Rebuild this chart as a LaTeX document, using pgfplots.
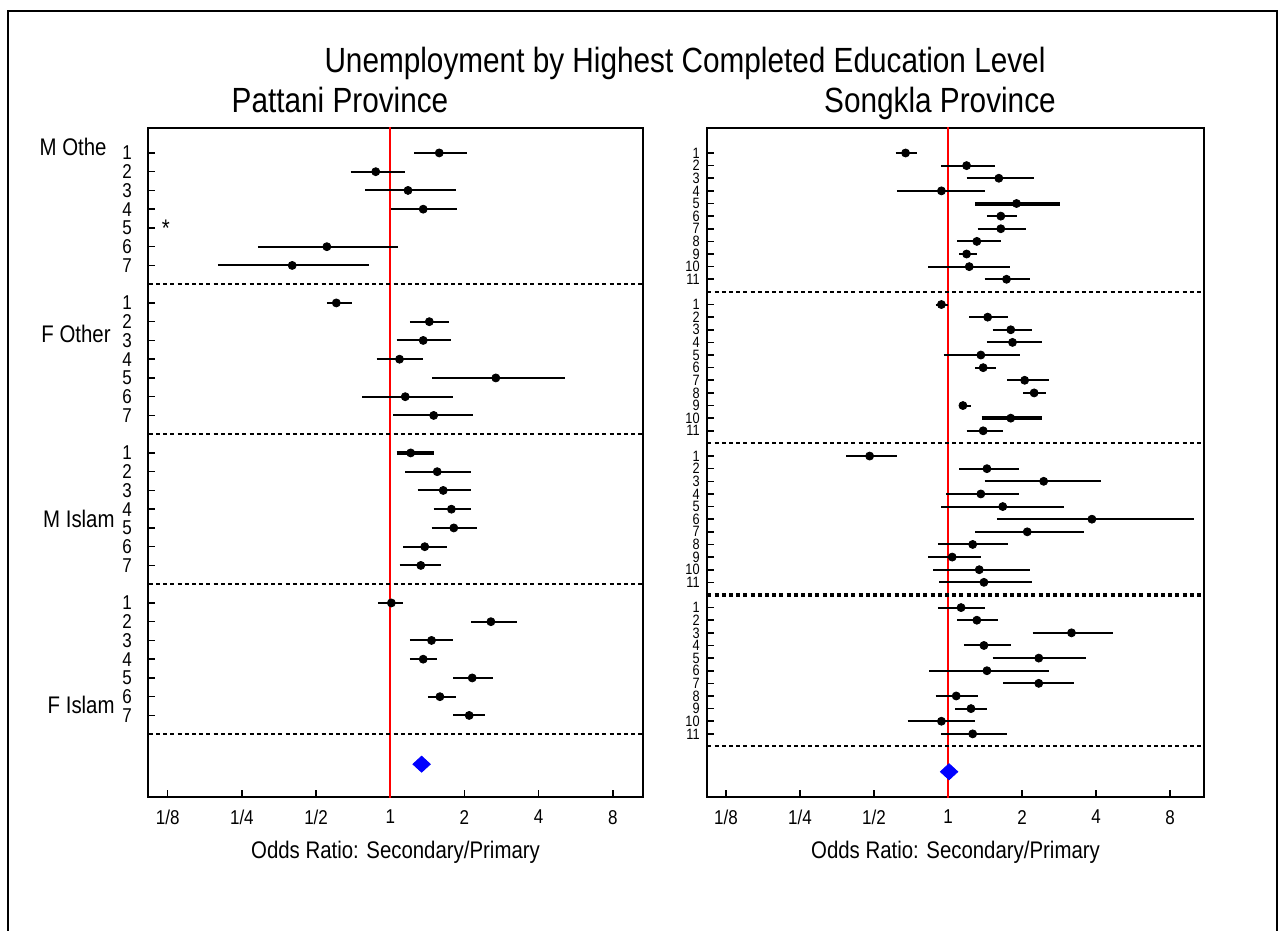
\documentclass[border=0pt]{standalone}
\usepackage{pgfplots}
\pgfplotsset{compat=1.18}
\usepackage{pgfplotstable}
\usepackage{fontspec}
\setmainfont{Liberation Sans}[FakeStretch=0.85]

% Odds ratios (or) with 95% limits (lo, hi); y is the row position
\pgfplotstableread{
y  or    lo    hi
1  1.58  1.25  2.05
2  0.873 0.69  1.15
3  1.18  0.79  1.84
4  1.36  1.01  1.86
6  0.553 0.29  1.07
7  0.40  0.20  0.82
9  0.604 0.553 0.70
10 1.44  1.20  1.73
11 1.36  1.06  1.76
12 1.09  0.88  1.36
13 2.68  1.48  5.10
14 1.15  0.77  1.80
15 1.50  1.03  2.17
18 1.55  1.15  2.13
19 1.64  1.29  2.13
20 1.77  1.50  2.13
21 1.81  1.47  2.25
22 1.38  1.13  1.70
23 1.33  1.09  1.61
25 1.01  0.89  1.13
26 2.56  2.13  3.26
27 1.47  1.20  1.80
28 1.36  1.20  1.55
29 2.15  1.80  2.60
30 1.59  1.42  1.84
31 2.09  1.80  2.42
}\pattani
\pgfplotstableread{
y  or    lo    hi
17 1.21  1.06  1.50
}\pattanibold

\pgfplotstableread{
y  or    lo    hi
1  0.672 0.612 0.75
2  1.19  0.94  1.55
3  1.61  1.19  2.24
4  0.94  0.62  1.41
6  1.64  1.44  1.90
7  1.64  1.32  2.08
8  1.31  1.09  1.64
9  1.19  1.11  1.31
10 1.22  0.83  1.79
11 1.73  1.41  2.16
13 0.94  0.89  1.00
14 1.45  1.22  1.76
15 1.80  1.52  2.19
16 1.83  1.44  2.42
17 1.36  0.96  1.97
18 1.39  1.29  1.57
19 2.05  1.74  2.57
20 2.24  2.02  2.51
21 1.15  1.11  1.24
23 1.39  1.19  1.67
25 0.48  0.385 0.62
26 1.44  1.11  1.94
27 2.45  1.41  4.21
28 1.36  0.98  1.94
29 1.67  0.94  2.97
30 3.85  1.58  9.97
31 2.10  1.29  3.56
32 1.26  0.91  1.76
33 1.04  0.83  1.36
34 1.34  0.87  2.16
35 1.40  0.92  2.19
37 1.13  0.91  1.41
38 1.31  1.09  1.60
39 3.18  2.21  4.71
40 1.40  1.16  1.80
41 2.34  1.52  3.64
42 1.44  0.84  2.57
43 2.34  1.68  3.25
44 1.08  0.89  1.33
45 1.24  1.07  1.44
46 0.94  0.685 1.29
47 1.26  0.94  1.73
}\songkla
\pgfplotstableread{
y  or    lo    hi
5  1.90  1.29  2.86
22 1.80  1.37  2.42
}\songklabold

% one horizontal segment from lo to hi for every row of a table
\newcommand\drawci[2]{%
  \pgfplotstablegetrowsof{#1}%
  \pgfmathtruncatemacro\cilast{\pgfplotsretval-1}%
  \pgfplotsforeachungrouped \cirow in {0,...,\cilast}{%
    \pgfplotstablegetelem{\cirow}{lo}\of{#1}\edef\cilo{\pgfplotsretval}%
    \pgfplotstablegetelem{\cirow}{hi}\of{#1}\edef\cihi{\pgfplotsretval}%
    \pgfplotstablegetelem{\cirow}{y}\of{#1}\edef\ciy{\pgfplotsretval}%
    \edef\cidraw{\noexpand\addplot[black, line width=#2, forget plot]
      coordinates {(\cilo,\ciy) (\cihi,\ciy)};}%
    \cidraw
  }%
}

\tikzset{
  sepline/.style={black, line width=1pt, dash pattern=on 2pt off 1.6pt},
  grouplabel/.style={anchor=mid east, inner sep=0pt, font=\fontsize{12}{12}\selectfont},
}

\begin{document}
\begin{tikzpicture}
\path[use as bounding box] (0,0) rectangle (640.5pt,465.5pt);
\draw[line width=0.8pt] (4pt,0) -- (4pt,460pt) -- (638.5pt,460pt) -- (638.5pt,0);

\node[anchor=base, font=\fontsize{17.5}{17.5}\selectfont] at (342.5pt,429pt)
  {Unemployment by Highest Completed Education Level};
\node[anchor=base, font=\fontsize{17.5}{17.5}\selectfont] at (170pt,409pt) {Pattani Province};
\node[anchor=base, font=\fontsize{17.5}{17.5}\selectfont] at (470pt,409pt) {Songkla Province};

% Pattani
\begin{axis}[
  scale only axis,
  xmode=log,
  y dir=reverse,
  at={(74pt,67pt)}, anchor=south west,
  width=247.5pt, height=334.5pt,
  xmin=0.104, xmax=10.6, ymin=-0.33, ymax=35.35,
  axis line style={line width=0.9pt},
  xtick={0.125,0.25,0.5,1,2,4,8},
  xticklabels={1/8,1/4,1/2,1,2,4,8},
  xtick pos=bottom, ytick pos=left,
  tick align=inside,
  major tick length=3.5pt,
  tick style={line width=0.8pt, black},
  xticklabel style={font=\fontsize{10}{10}\selectfont, yshift=-3pt},
  xlabel={Odds Ratio: Secondary/Primary},
  xlabel style={at={(axis description cs:0.5,0)}, anchor=center, yshift=-27.5pt,
    font=\fontsize{12}{12}\selectfont},
  ytick={1,2,3,4,5,6,7,9,10,11,12,13,14,15,17,18,19,20,21,22,23,25,26,27,28,29,30,31},
  yticklabels={1,2,3,4,5,6,7,1,2,3,4,5,6,7,1,2,3,4,5,6,7,1,2,3,4,5,6,7},
  yticklabel style={font=\fontsize{10}{10}\selectfont, xshift=-4.5pt},
]
\addplot[red, line width=1pt] coordinates {(1,-2) (1,40)};
\addplot[sepline] coordinates {(0.05,8) (20,8)};
\addplot[sepline] coordinates {(0.05,16) (20,16)};
\addplot[sepline] coordinates {(0.05,24) (20,24)};
\addplot[sepline] coordinates {(0.05,32) (20,32)};
\drawci{\pattani}{1pt}
\drawci{\pattanibold}{2pt}
\addplot[only marks, black, mark=*, mark size=2pt] table[x=or, y=y] {\pattani};
\addplot[only marks, black, mark=*, mark size=2pt] table[x=or, y=y] {\pattanibold};
\addplot[only marks, blue, mark=diamond*, mark size=4pt,
  mark options={xscale=1.45}] coordinates {(1.34,33.6)};
\node[font=\fontsize{12}{12}\selectfont] at (axis cs:0.123,5) {*};
\end{axis}

\node[grouplabel] at (53.5pt,390.5pt) {M Othe};
\node[grouplabel] at (55.5pt,297pt) {F Other};
\node[grouplabel] at (57.5pt,204.5pt) {M Islam};
\node[grouplabel] at (57.5pt,111.5pt) {F Islam};

% Songkla
\begin{axis}[
  scale only axis,
  xmode=log,
  y dir=reverse,
  at={(353.5pt,67pt)}, anchor=south west,
  width=248.5pt, height=334.5pt,
  xmin=0.1046, xmax=11.0, ymin=-0.98, ymax=52.0,
  axis line style={line width=0.9pt},
  xtick={0.125,0.25,0.5,1,2,4,8},
  xticklabels={1/8,1/4,1/2,1,2,4,8},
  xtick pos=bottom, ytick pos=left,
  tick align=inside,
  major tick length=3.5pt,
  tick style={line width=0.8pt, black},
  xticklabel style={font=\fontsize{10}{10}\selectfont, yshift=-3pt},
  xlabel={Odds Ratio: Secondary/Primary},
  xlabel style={at={(axis description cs:0.5,0)}, anchor=center, yshift=-27.5pt,
    font=\fontsize{12}{12}\selectfont},
  ytick={1,2,3,4,5,6,7,8,9,10,11,13,14,15,16,17,18,19,20,21,22,23,
         25,26,27,28,29,30,31,32,33,34,35,37,38,39,40,41,42,43,44,45,46,47},
  yticklabels={1,2,3,4,5,6,7,8,9,10,11,1,2,3,4,5,6,7,8,9,10,11,
               1,2,3,4,5,6,7,8,9,10,11,1,2,3,4,5,6,7,8,9,10,11},
  yticklabel style={font=\fontsize{7.5}{7.5}\selectfont, inner xsep=1pt, inner ysep=0pt,
    xshift=-2.5pt},
]
\addplot[red, line width=1pt] coordinates {(1,-2) (1,60)};
\addplot[sepline] coordinates {(0.05,12) (20,12)};
\addplot[sepline] coordinates {(0.05,24) (20,24)};
\addplot[sepline, line width=1.6pt] coordinates {(0.05,36) (20,36)};
\addplot[sepline] coordinates {(0.05,48) (20,48)};
\drawci{\songkla}{1pt}
\drawci{\songklabold}{2pt}
\addplot[only marks, black, mark=*, mark size=2pt] table[x=or, y=y] {\songkla};
\addplot[only marks, black, mark=*, mark size=2pt] table[x=or, y=y] {\songklabold};
\addplot[only marks, blue, mark=diamond*, mark size=4pt,
  mark options={xscale=1.45}] coordinates {(1.01,50)};
\end{axis}
\end{tikzpicture}
\end{document}
